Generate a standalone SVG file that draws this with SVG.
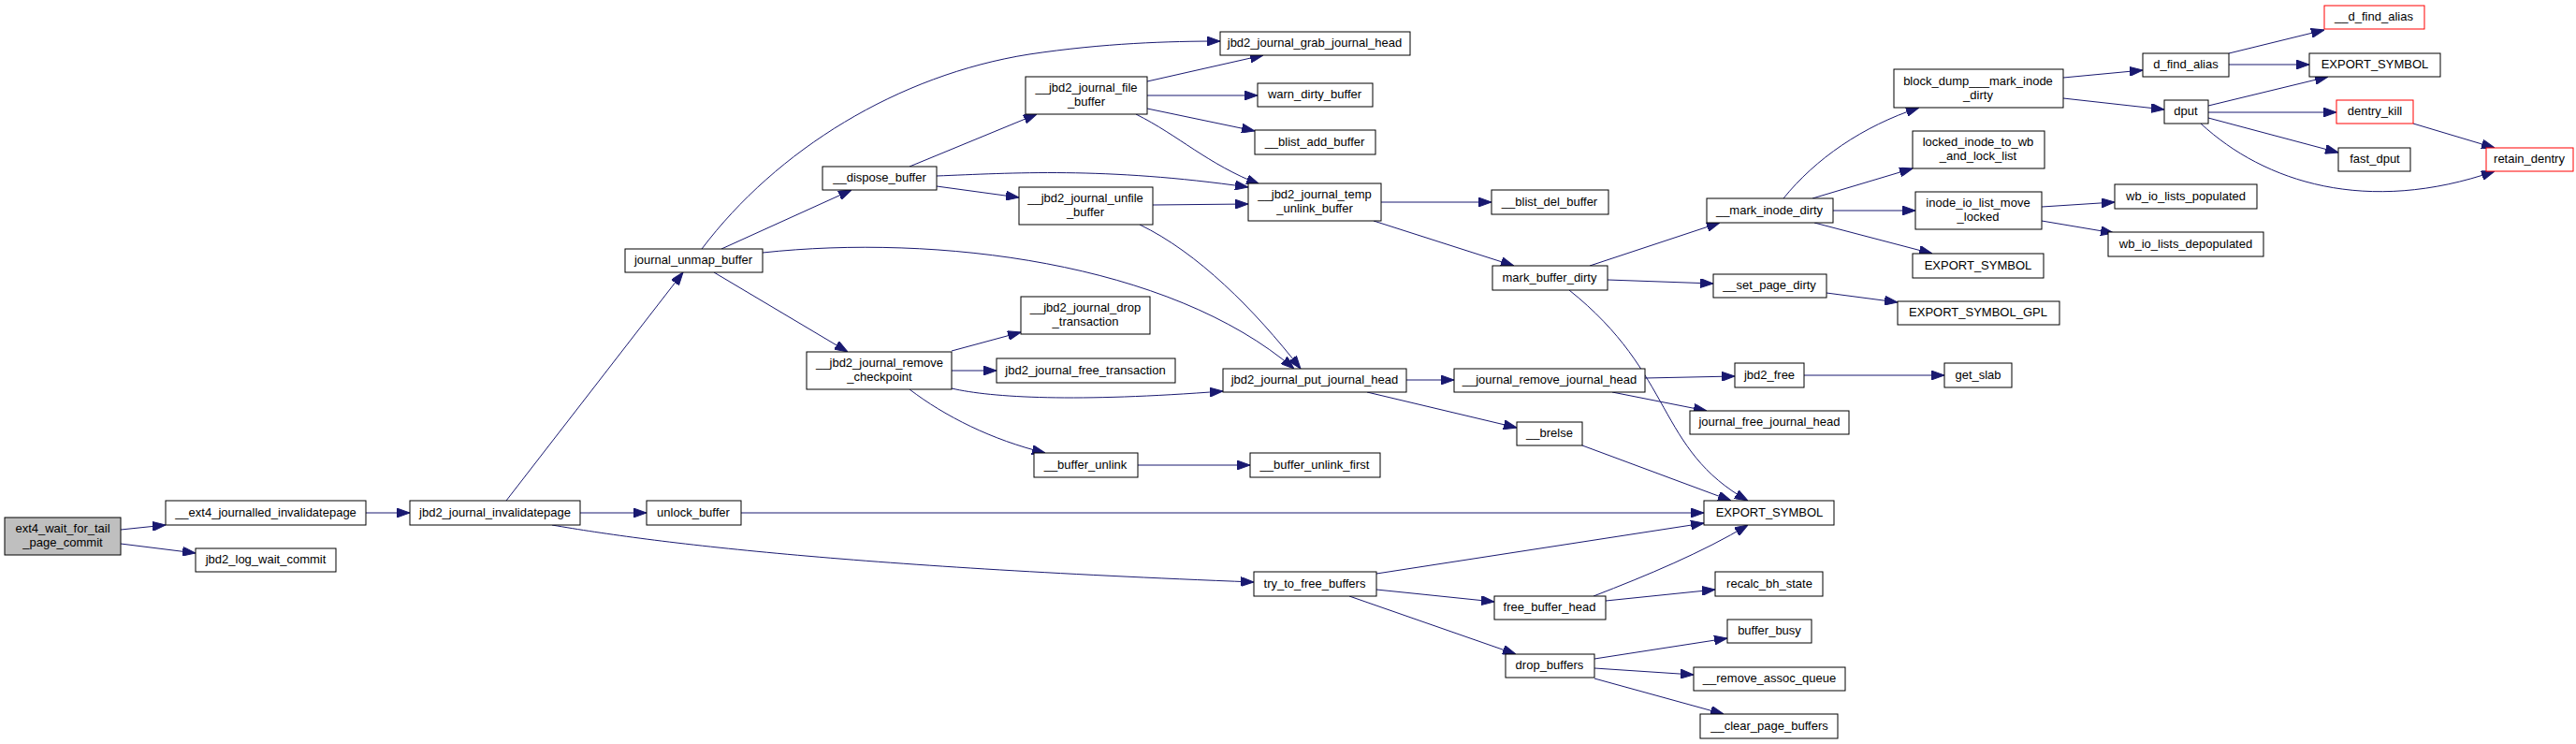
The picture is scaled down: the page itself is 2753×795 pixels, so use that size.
<svg xmlns="http://www.w3.org/2000/svg" width="2753" height="795" viewBox="0 0 2753 795">
<style>
.n rect{fill:#ffffff;stroke:#000000;stroke-width:1}
.n.root rect{fill:#bfbfbf}
.n.red rect{stroke:#ff0000}
.n text{font-family:"Liberation Sans",Arial,sans-serif;font-size:13px;text-anchor:middle;fill:#000000}
.e path{fill:none;stroke:#191970;stroke-width:1;marker-end:url(#ah)}
</style>
<defs>
<marker id="ah" viewBox="0 0 14 10" refX="14" refY="5" markerWidth="14" markerHeight="10" markerUnits="userSpaceOnUse" orient="auto">
<path d="M0,0 L14,5 L0,10 z" fill="#191970" stroke="#191970"/>
</marker>
</defs>
<rect width="2753" height="795" fill="#ffffff"/>
<g id="edges" class="e">
<path d="M129,566 L177,561"/>
<path d="M129,581 L209,591"/>
<path d="M391,548 L438,548"/>
<path d="M541,535 L730,291"/>
<path d="M620,548 L691,548"/>
<path d="M590,561 C700,580 900,605 1340,622"/>
<path d="M771,266 L910,203"/>
<path d="M750,266 C830,160 960,80 1100,58 C1180,46 1250,44 1304,44"/>
<path d="M763,291 L906,376"/>
<path d="M815,270 C1000,250 1250,280 1383,394"/>
<path d="M972,178 L1108,122"/>
<path d="M1001,199 L1089,211"/>
<path d="M1001,188 C1080,185 1180,178 1334,200"/>
<path d="M1226,87 L1350,59"/>
<path d="M1226,102 L1344,102"/>
<path d="M1226,116 L1341,140"/>
<path d="M1214,122 C1260,145 1290,175 1346,197"/>
<path d="M1232,219 L1334,218"/>
<path d="M1218,240 C1280,270 1340,330 1390,394"/>
<path d="M1476,216 L1594,216"/>
<path d="M1468,236 L1618,284"/>
<path d="M1017,375 L1091,355"/>
<path d="M1017,396 L1065,396"/>
<path d="M1017,415 C1060,425 1150,430 1307,418"/>
<path d="M972,416 C1010,445 1060,470 1117,484"/>
<path d="M1216,497 L1336,497"/>
<path d="M1503,406 L1554,406"/>
<path d="M1461,419 L1621,457"/>
<path d="M1758,404 L1854,402"/>
<path d="M1723,419 L1824,439"/>
<path d="M1928,401 L2078,401"/>
<path d="M1691,476 L1850,535"/>
<path d="M1699,284 L1838,238"/>
<path d="M1718,299 L1831,303"/>
<path d="M1677,310 C1790,400 1770,480 1868,535"/>
<path d="M1952,313 L2028,323"/>
<path d="M1906,212 C1940,170 1990,135 2051,115"/>
<path d="M1937,212 L2044,180"/>
<path d="M1959,225 L2047,225"/>
<path d="M1939,238 L2065,271"/>
<path d="M2205,83 L2290,75"/>
<path d="M2205,105 L2313,117"/>
<path d="M2382,57 L2484,32"/>
<path d="M2382,69 L2468,69"/>
<path d="M2360,113 L2488,82"/>
<path d="M2360,120 L2497,120"/>
<path d="M2360,126 L2499,163"/>
<path d="M2352,132 C2420,195 2530,230 2666,183"/>
<path d="M2579,132 L2666,158"/>
<path d="M2182,221 L2260,216"/>
<path d="M2182,236 L2259,249"/>
<path d="M792,548 L1821,548"/>
<path d="M1471,613 L1821,559"/>
<path d="M1471,630 L1597,643"/>
<path d="M1442,637 L1620,699"/>
<path d="M1703,637 C1760,615 1820,590 1868,561"/>
<path d="M1716,642 L1833,630"/>
<path d="M1704,704 L1846,682"/>
<path d="M1704,714 L1810,721"/>
<path d="M1704,725 L1842,763"/>
</g>
<g id="n_ext4" class="n root"><rect x="5" y="553" width="124" height="40"/><text x="67" y="569">ext4_wait_for_tail</text><text x="67" y="584">_page_commit</text></g>
<g id="n_ext4_jinv" class="n"><rect x="177" y="535" width="214" height="26"/><text x="284" y="552">__ext4_journalled_invalidatepage</text></g>
<g id="n_logwait" class="n"><rect x="209" y="586" width="150" height="25"/><text x="284" y="602">jbd2_log_wait_commit</text></g>
<g id="n_jinv" class="n"><rect x="438" y="535" width="182" height="26"/><text x="529" y="552">jbd2_journal_invalidatepage</text></g>
<g id="n_unmap" class="n"><rect x="668" y="266" width="147" height="25"/><text x="741" y="282">journal_unmap_buffer</text></g>
<g id="n_unlock" class="n"><rect x="691" y="535" width="101" height="26"/><text x="741" y="552">unlock_buffer</text></g>
<g id="n_tryfree" class="n"><rect x="1340" y="611" width="131" height="26"/><text x="1405" y="628">try_to_free_buffers</text></g>
<g id="n_dispose" class="n"><rect x="879" y="178" width="122" height="25"/><text x="940" y="194">__dispose_buffer</text></g>
<g id="n_rmchk" class="n"><rect x="862" y="376" width="155" height="40"/><text x="940" y="392">__jbd2_journal_remove</text><text x="940" y="407">_checkpoint</text></g>
<g id="n_grab" class="n"><rect x="1304" y="34" width="203" height="25"/><text x="1405" y="50">jbd2_journal_grab_journal_head</text></g>
<g id="n_file" class="n"><rect x="1096" y="82" width="130" height="40"/><text x="1161" y="98">__jbd2_journal_file</text><text x="1161" y="113">_buffer</text></g>
<g id="n_warn" class="n"><rect x="1344" y="89" width="123" height="25"/><text x="1405" y="105">warn_dirty_buffer</text></g>
<g id="n_blistadd" class="n"><rect x="1341" y="139" width="129" height="26"/><text x="1405" y="156">__blist_add_buffer</text></g>
<g id="n_unfile" class="n"><rect x="1089" y="200" width="143" height="40"/><text x="1160" y="216">__jbd2_journal_unfile</text><text x="1160" y="231">_buffer</text></g>
<g id="n_temp" class="n"><rect x="1334" y="196" width="142" height="40"/><text x="1405" y="212">__jbd2_journal_temp</text><text x="1405" y="227">_unlink_buffer</text></g>
<g id="n_droptx" class="n"><rect x="1091" y="317" width="138" height="40"/><text x="1160" y="333">__jbd2_journal_drop</text><text x="1160" y="348">_transaction</text></g>
<g id="n_freetx" class="n"><rect x="1065" y="383" width="191" height="26"/><text x="1160" y="400">jbd2_journal_free_transaction</text></g>
<g id="n_put" class="n"><rect x="1307" y="394" width="196" height="25"/><text x="1405" y="410">jbd2_journal_put_journal_head</text></g>
<g id="n_bunlink" class="n"><rect x="1105" y="484" width="111" height="26"/><text x="1160" y="501">__buffer_unlink</text></g>
<g id="n_bunlinkfirst" class="n"><rect x="1336" y="484" width="139" height="26"/><text x="1405" y="501">__buffer_unlink_first</text></g>
<g id="n_blistdel" class="n"><rect x="1594" y="203" width="125" height="26"/><text x="1656" y="220">__blist_del_buffer</text></g>
<g id="n_markbuf" class="n"><rect x="1595" y="284" width="123" height="26"/><text x="1656" y="301">mark_buffer_dirty</text></g>
<g id="n_jrm" class="n"><rect x="1554" y="394" width="204" height="25"/><text x="1656" y="410">__journal_remove_journal_head</text></g>
<g id="n_brelse" class="n"><rect x="1621" y="451" width="70" height="25"/><text x="1656" y="467">__brelse</text></g>
<g id="n_fbh" class="n"><rect x="1597" y="637" width="119" height="25"/><text x="1656" y="653">free_buffer_head</text></g>
<g id="n_dropbuf" class="n"><rect x="1609" y="699" width="95" height="25"/><text x="1656" y="715">drop_buffers</text></g>
<g id="n_export_main" class="n"><rect x="1821" y="535" width="139" height="26"/><text x="1891" y="552">EXPORT_SYMBOL</text></g>
<g id="n_recalc" class="n"><rect x="1833" y="611" width="115" height="26"/><text x="1891" y="628">recalc_bh_state</text></g>
<g id="n_busy" class="n"><rect x="1846" y="662" width="90" height="25"/><text x="1891" y="678">buffer_busy</text></g>
<g id="n_rmassoc" class="n"><rect x="1810" y="713" width="162" height="25"/><text x="1891" y="729">__remove_assoc_queue</text></g>
<g id="n_clearpage" class="n"><rect x="1817" y="763" width="147" height="26"/><text x="1891" y="780">__clear_page_buffers</text></g>
<g id="n_setpage" class="n"><rect x="1831" y="293" width="121" height="25"/><text x="1891" y="309">__set_page_dirty</text></g>
<g id="n_jfree" class="n"><rect x="1854" y="388" width="74" height="26"/><text x="1891" y="405">jbd2_free</text></g>
<g id="n_jfreejh" class="n"><rect x="1806" y="439" width="170" height="25"/><text x="1891" y="455">journal_free_journal_head</text></g>
<g id="n_markinode" class="n"><rect x="1824" y="212" width="135" height="26"/><text x="1891" y="229">__mark_inode_dirty</text></g>
<g id="n_gpl" class="n"><rect x="2028" y="322" width="173" height="25"/><text x="2114" y="338">EXPORT_SYMBOL_GPL</text></g>
<g id="n_export_mid" class="n"><rect x="2044" y="271" width="140" height="26"/><text x="2114" y="288">EXPORT_SYMBOL</text></g>
<g id="n_getslab" class="n"><rect x="2078" y="388" width="72" height="26"/><text x="2114" y="405">get_slab</text></g>
<g id="n_blockdump" class="n"><rect x="2024" y="74" width="181" height="41"/><text x="2114" y="91">block_dump___mark_inode</text><text x="2114" y="106">_dirty</text></g>
<g id="n_locked" class="n"><rect x="2044" y="140" width="141" height="40"/><text x="2114" y="156">locked_inode_to_wb</text><text x="2114" y="171">_and_lock_list</text></g>
<g id="n_iolist" class="n"><rect x="2047" y="205" width="135" height="40"/><text x="2114" y="221">inode_io_list_move</text><text x="2114" y="236">_locked</text></g>
<g id="n_dfind" class="n"><rect x="2290" y="57" width="92" height="25"/><text x="2336" y="73">d_find_alias</text></g>
<g id="n_dput" class="n"><rect x="2313" y="107" width="47" height="25"/><text x="2336" y="123">dput</text></g>
<g id="n_wbpop" class="n"><rect x="2260" y="197" width="152" height="26"/><text x="2336" y="214">wb_io_lists_populated</text></g>
<g id="n_wbdepop" class="n"><rect x="2253" y="248" width="166" height="26"/><text x="2336" y="265">wb_io_lists_depopulated</text></g>
<g id="n_ddfind" class="n red"><rect x="2484" y="6" width="107" height="25"/><text x="2537" y="22">__d_find_alias</text></g>
<g id="n_export_top" class="n"><rect x="2468" y="57" width="140" height="25"/><text x="2538" y="73">EXPORT_SYMBOL</text></g>
<g id="n_dentrykill" class="n red"><rect x="2497" y="107" width="82" height="25"/><text x="2538" y="123">dentry_kill</text></g>
<g id="n_fastdput" class="n"><rect x="2499" y="158" width="77" height="25"/><text x="2538" y="174">fast_dput</text></g>
<g id="n_retain" class="n red"><rect x="2657" y="158" width="93" height="25"/><text x="2703" y="174">retain_dentry</text></g>
</svg>
